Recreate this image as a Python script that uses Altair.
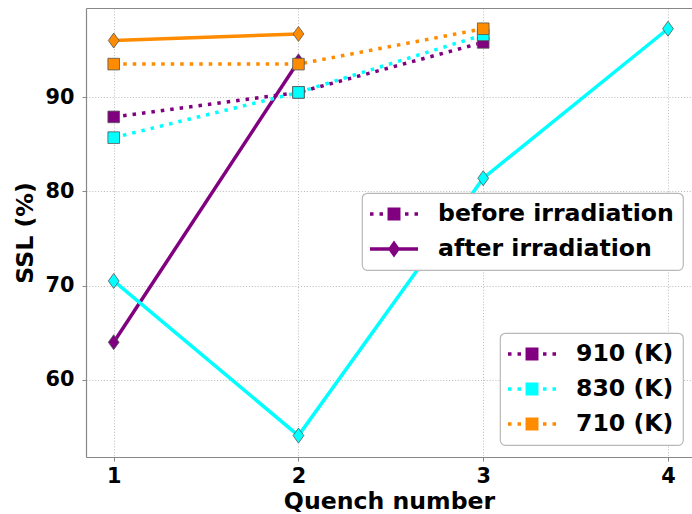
import altair as alt
import pandas as pd

# ---------------- data ----------------
quench = [1, 2, 3, 4]
temps = ["910 (K)", "830 (K)", "710 (K)"]
temp_values = ["910", "830", "710"]          # same temperatures, used by the legend
colors = ["#800080", "#00ffff", "#ff8c00"]
states = ["before irradiation", "after irradiation"]

before_910 = [87.9, 90.5, 95.8]
before_830 = [85.7, 90.5, 96.6]
before_710 = [93.5, 93.5, 97.25]
after_910 = [64.0, 93.8]
after_830 = [70.5, 54.1, 81.4, 97.25]
after_710 = [96.0, 96.7]

series = [
    ("910 (K)", "before irradiation", before_910),
    ("910 (K)", "after irradiation", after_910),
    ("830 (K)", "before irradiation", before_830),
    ("830 (K)", "after irradiation", after_830),
    ("710 (K)", "before irradiation", before_710),
    ("710 (K)", "after irradiation", after_710),
]
rows = []
for t, s, vals in series:
    for q, v in zip(quench, vals):
        rows.append({"quench": q, "ssl": v, "temp": t, "tk": t.split(" ")[0], "state": s})
df = pd.DataFrame(rows)

# ---------------- styling ----------------
FONT = "DejaVu Sans"
SPINE = "#888888"
DIAMOND = "M0,-1L0.72,0L0,1L-0.72,0Z"
# legend handles: dotted line + square / solid line + thin diamond
LEG_BEFORE = ("M-2,-0.146H-1.708V0.146H-2Z M-1.208,-0.146H-0.917V0.146H-1.208Z "
              "M0.917,-0.146H1.208V0.146H0.917Z M1.708,-0.146H2V0.146H1.708Z "
              "M-0.54,-0.54H0.54V0.54H-0.54Z")
LEG_AFTER = "M-2,-0.146H2V0.146H-2Z M0,-0.71L0.5,0L0,0.71L-0.5,0Z"

x_scale = alt.Scale(domain=[0.85, 4.13], nice=False, zero=False)
y_scale = alt.Scale(domain=[51.83, 99.45], nice=False, zero=False)

x_axis = alt.Axis(values=quench, format="d", title="Quench number",
                  labelFont=FONT, labelFontSize=20.8, labelFontWeight="bold",
                  labelColor="black", labelPadding=5,
                  titleFont=FONT, titleFontSize=23.6, titleFontWeight="bold",
                  titleColor="black", titlePadding=4,
                  grid=True, gridColor="#b0b0b0", gridDash=[1.1, 1.8], gridWidth=0.8,
                  domainColor=SPINE, domainWidth=1.2, tickColor=SPINE, tickSize=4,
                  tickWidth=1)
y_axis = alt.Axis(values=[60, 70, 80, 90], title="SSL (%)",
                  labelFont=FONT, labelFontSize=20.8, labelFontWeight="bold",
                  labelColor="black", labelPadding=8,
                  titleFont=FONT, titleFontSize=23.6, titleFontWeight="bold",
                  titleColor="black", titlePadding=8,
                  grid=True, gridColor="#b0b0b0", gridDash=[1.1, 1.8], gridWidth=0.8,
                  domainColor=SPINE, domainWidth=1.2, tickColor=SPINE, tickSize=4,
                  tickWidth=1)

X = alt.X("quench:Q", scale=x_scale, axis=x_axis)
Y = alt.Y("ssl:Q", scale=y_scale, axis=y_axis)

layers = []
for t in temps:
    for s in states:
        sub = alt.Chart(df).transform_filter(
            (alt.datum.temp == t) & (alt.datum.state == s))
        if s == "before irradiation":
            line = sub.mark_line(strokeWidth=3.5, strokeDash=[3.5, 6])
            pts = sub.mark_point(filled=True, shape="square", size=135,
                                 stroke="#555555", strokeWidth=0.8, opacity=1)
        else:
            line = sub.mark_line(strokeWidth=3.5)
            pts = sub.mark_point(filled=True, shape=DIAMOND, size=225,
                                 stroke="#555555", strokeWidth=0.8, opacity=1)
        layers.append(line.encode(
            x=X, y=Y,
            stroke=alt.Stroke("temp:N", scale=alt.Scale(domain=temps, range=colors),
                              legend=None)))
        layers.append(pts.encode(
            x=X, y=Y,
            fill=alt.Fill("temp:N", scale=alt.Scale(domain=temps, range=colors),
                          legend=None)))

# legend carriers (no data drawn)
temp_legend = alt.Chart(df).transform_filter("false").mark_point(
    filled=True, size=576, strokeWidth=0, opacity=1).encode(
    x=X, y=Y,
    color=alt.Color("tk:N", scale=alt.Scale(domain=temp_values, range=colors),
                    legend=alt.Legend(title=None, orient="none", legendX=414, legendY=325,
                                      symbolType=LEG_BEFORE, symbolSize=576,
                                      symbolOffset=11,
                                      labelExpr="datum.label + ' (K)'",
                                      labelOffset=32, rowPadding=11)))
state_legend = alt.Chart(df).transform_filter("false").mark_point(
    filled=True, size=576, strokeWidth=0, color="#800080", opacity=1).encode(
    x=X, y=Y,
    shape=alt.Shape("state:N",
                    scale=alt.Scale(domain=states, range=[LEG_BEFORE, LEG_AFTER]),
                    legend=alt.Legend(title=None, orient="none", legendX=276, legendY=185,
                                      symbolSize=576, symbolOffset=11,
                                      labelOffset=32, rowPadding=11)))

inner = alt.layer(*layers, temp_legend, state_legend)

top_spine = alt.Chart(df).transform_filter("false").mark_point(opacity=0).encode(
    x=alt.X("quench:Q", scale=x_scale,
            axis=alt.Axis(orient="top", labels=False, ticks=False, grid=False,
                          title=None, domainColor=SPINE, domainWidth=1.2)),
    y=Y)

chart = alt.layer(inner, top_spine).resolve_axis(x="independent").properties(
    width=606, height=449,
    autosize=alt.AutoSizeParams(type="none"),
    padding={"left": 86, "top": 8, "right": 0, "bottom": 57},
    background="white",
).configure_view(stroke=None).configure_legend(
    labelFont=FONT, labelFontSize=23.6, labelFontWeight="bold", labelColor="black",
    fillColor="white", strokeColor="#b8b8b8", strokeWidth=1.2, cornerRadius=5, padding=9,
    symbolStrokeWidth=0, labelLimit=400,
)

chart.save("out.html", embed_options={"renderer": "svg", "actions": False})
